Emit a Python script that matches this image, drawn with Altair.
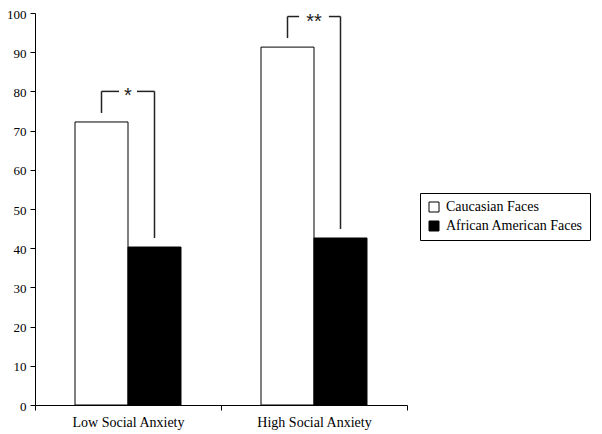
import altair as alt
import pandas as pd

groups = ["Low Social Anxiety", "High Social Anxiety"]
series = ["Caucasian Faces", "African American Faces"]
caucasian = [72.2, 91.3]
african_american = [40.3, 42.6]
stars = ["*", "**"]
y_ticks = [0, 10, 20, 30, 40, 50, 60, 70, 80, 90, 100]

rows = []
for g, c, a in zip(groups, caucasian, african_american):
    rows.append({"group": g, "series": series[0], "value": c})
    rows.append({"group": g, "series": series[1], "value": a})
bars_df = pd.DataFrame(rows)

W, H = 372, 392
OFFSET_PAD = 0.755
BAR_FRAC = 1.0 / (2 + 2 * OFFSET_PAD)

seg_rows, text_rows = [], []
for i, (c, a, s) in enumerate(zip(caucasian, african_american, stars)):
    center = i + 0.5
    left = center - BAR_FRAC / 2
    right = center + BAR_FRAC / 2
    top = c + 7.8
    gap = 0.016 + 0.032 * len(s)
    seg_rows += [
        {"x": left, "x2": left, "y": c + 2.3, "y2": top},
        {"x": right, "x2": right, "y": a + 2.3, "y2": top},
        {"x": left, "x2": center - gap, "y": top, "y2": top},
        {"x": center + gap, "x2": right, "y": top, "y2": top},
    ]
    text_rows.append({"x": center, "y": top, "t": s})
seg_df = pd.DataFrame(seg_rows)
text_df = pd.DataFrame(text_rows)

yscale = alt.Scale(domain=[0, 100], nice=False)
FONT = "Liberation Serif"


def y_axis():
    return alt.Axis(title=None, values=y_ticks, grid=False, labelPadding=4,
                    labelOverlap=False, labelFontSize=13, labelOffset=1)


bars = alt.Chart(bars_df).mark_bar(stroke="black", strokeWidth=1).encode(
    x=alt.X("group:N", sort=groups,
            scale=alt.Scale(paddingInner=0, paddingOuter=0),
            axis=alt.Axis(title=None, labelAngle=0, tickBand="extent",
                          labelPadding=5, labelFontSize=14)),
    xOffset=alt.XOffset("series:N", sort=series,
                        scale=alt.Scale(paddingInner=0, paddingOuter=OFFSET_PAD)),
    y=alt.Y("value:Q", scale=yscale, axis=y_axis()),
    fill=alt.Fill("series:N", sort=series,
                  scale=alt.Scale(domain=series, range=["white", "black"]),
                  legend=alt.Legend(title=None, orient="none", legendX=385, legendY=180,
                                    strokeColor="black", padding=7,
                                    symbolType="square", symbolSize=100,
                                    symbolStrokeColor="black", symbolStrokeWidth=1,
                                    labelFont=FONT, labelFontSize=14, labelColor="black",
                                    rowPadding=5, labelOffset=5)),
)

xq = alt.Scale(domain=[0, 2], nice=False, zero=False)
rules = alt.Chart(seg_df).mark_rule(color="#222222", strokeWidth=1.5).encode(
    x=alt.X("x:Q", scale=xq, axis=None),
    x2="x2:Q",
    y=alt.Y("y:Q", scale=yscale, axis=y_axis()),
    y2="y2:Q",
)
texts = alt.Chart(text_df).mark_text(font="Liberation Sans", fontSize=20,
                                      baseline="middle", dy=5, color="#222222").encode(
    x=alt.X("x:Q", scale=xq, axis=None),
    y=alt.Y("y:Q", scale=yscale, axis=y_axis()),
    text="t:N",
)

chart = alt.layer(bars, rules, texts).resolve_scale(x="independent").properties(
    width=W, height=H,
    autosize=alt.AutoSizeParams(type="none"),
    padding={"left": 27, "top": 5, "right": 187, "bottom": 30},
).configure_view(stroke="transparent").configure_axis(
    domainColor="black", tickColor="black", tickSize=5, labelColor="black",
    labelFont=FONT, domainWidth=1, tickWidth=1,
)

chart.save("out.html", embed_options={"renderer": "svg", "actions": False})
